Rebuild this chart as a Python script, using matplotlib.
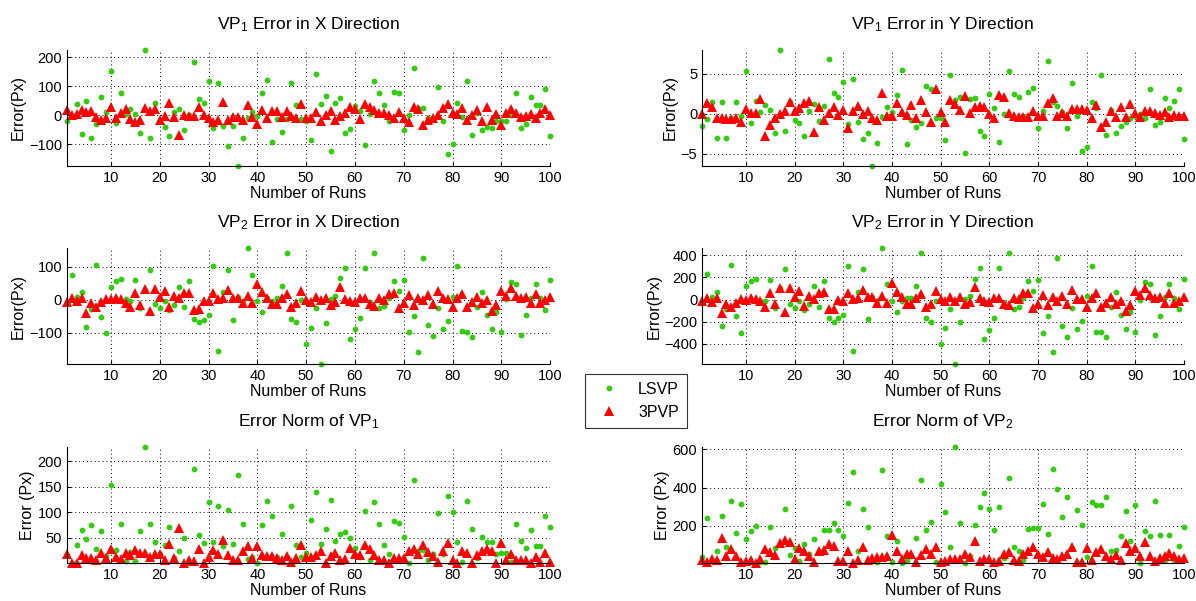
import numpy as np
import matplotlib
matplotlib.use("Agg")
from matplotlib import pyplot as plt

plt.rcParams["font.family"] = ["Liberation Sans", "DejaVu Sans"]
plt.rcParams["mathtext.default"] = "regular"

runs = np.arange(1, 101)

# VP1 error in X
lsvp_vp1_x = [-20, -2, 38, -65, 48, -77, -30, 62, 12, 152, -26, 76, 5, 23, 5, -63, 226, -77, 41, -17,
              -39, -71, 10, 23, -52, 0, 184, 55, 41, 117, -44, 113, -36, -105, -37, -175, -77, -9, 11, -2,
              76, 122, -93, -13, -59, -13, 110, 36, -13, -20, -85, 141, 38, 67, -125, 44, 59, -62, -49, 32,
              13, -103, 6, 118, 78, 36, -20, 82, 78, -52, 0, 162, 24, 25, -8, -16, 98, -20, -133, -101,
              41, -5, 120, -67, 9, -52, -41, -44, -20, -20, -20, 1, 78, -45, -31, 64, 34, 34, 92, -71]
p3_vp1_x = [18, 1, 5, 18, 10, 13, -7, -16, -10, 30, -10, 9, 22, -13, -22, -18, 24, 14, 22, -16,
            -2, 41, -7, -68, 2, -2, -2, 30, 2, -10, -25, -16, 47, -16, -5, -5, -16, 36, -7, -30,
            18, -10, 13, 13, -5, 15, -2, -8, 38, -10, -10, 10, -20, 1, 15, -18, -2, 9, 30, 21,
            -14, 38, 30, 18, 9, 7, 1, -8, 10, -8, -22, 30, 21, -33, -18, -11, 1, 24, 39, 9,
            5, 26, -16, 2, 18, -20, 30, -18, 3, -33, 7, 21, 9, -5, -2, 5, -9, 7, 21, 0]

# VP1 error in Y
lsvp_vp1_y = [-1.5, -0.6, 1.5, -3.0, 1.5, -3.0, -0.5, 1.5, -0.3, 5.3, -1.1, 1.6, 0.2, 1.1, 0.5, -2.4, 8.0, -2.2, 1.5, -0.8,
              -1.2, -2.8, 0.3, 1.2, -0.9, 1.0, 6.9, 2.6, 2.1, 4.0, -1.25, 4.4, -1.0, -3.2, -2.4, -6.5, -3.6, -0.4, 0.8, 0.25,
              2.3, 5.5, -3.75, -0.8, -1.6, -1.1, 3.5, 3.1, -0.5, -0.5, -3.3, 4.9, 1.75, 2.1, -4.9, 1.8, 2.0, -2.1, -2.8, 2.5,
              0.7, -3.5, 0.0, 5.3, 2.5, 2.1, -0.3, 2.75, 3.25, -1.8, 0.4, 6.6, 1.5, 1.0, 0.2, -1.8, 3.9, -0.25, -4.6, -4.1,
              1.5, 0.7, 4.8, -2.6, 0.5, -2.4, -1.5, -1.0, -0.5, -0.3, 0.0, -0.5, 3.1, -1.4, -1.0, 2.0, 0.7, 1.6, 3.1, -3.2]
p3_vp1_y = [0.0, 1.3, 0.8, -0.5, -0.5, -0.6, -0.6, -0.5, -1.0, 0.6, 0.1, 0.1, 1.8, -2.8, -1.4, -0.5, 0.0, 0.3, 1.5, 0.3,
            0.7, 1.4, 1.6, -2.3, 0.9, -0.8, 0.1, 0.9, -0.1, 0.5, -1.8, 0.3, 1.0, 0.0, 0.3, -0.5, -0.75, 2.6, -0.25, -0.25,
            1.3, 0.2, -0.1, 1.1, -0.5, 1.75, 0.2, -1.0, 3.1, 0.2, -1.0, 1.75, 1.25, 0.5, 2.2, 0.1, 0.9, 1.0, 0.8, 0.0,
            -0.5, 2.3, 2.1, 0.1, -0.3, -0.4, -0.4, -0.4, 0.4, -0.25, -0.25, 1.4, 2.0, -0.25, 0.1, -0.25, 0.6, 0.6, 0.6, 0.5,
            -0.5, 1.1, -1.7, -1.0, 0.4, -0.4, 0.9, -0.4, 1.25, 0.1, -0.4, 0.4, 0.4, 0.1, -0.1, 0.2, -0.4, -0.1, -0.25, -0.25]

# VP2 error in X
lsvp_vp2_x = [-11, 75, 9, 23, -82, -29, 106, -52, -101, 40, 56, 64, 1, -3, 61, -25, 30, 90, -13, -24,
              -3, -32, -16, 39, -22, 58, -57, -69, -60, -46, 103, -156, 23, 92, -60, 10, -5, 157, 74, -3,
              -37, 5, -3, 5, 42, 141, -57, -69, 0, -133, -87, -26, -196, -70, 1, 13, 65, 96, -119, -90,
              -55, 96, -7, 142, -26, -20, 6, 57, 26, 61, -99, -48, -160, 126, -77, -111, -25, -89, -64, 10,
              103, -96, -98, -113, -22, 23, -46, -89, -38, -98, 1, 54, 47, -106, -47, 7, 47, 4, -31, 61]
p3_vp2_x = [-6, 4, -3, 4, -41, -11, -21, -6, 1, 1, 7, 1, -9, -21, 21, -16, 34, -35, 34, 9,
            26, -21, 11, 4, 22, 22, -31, -28, -3, -4, 22, 2, 6, 29, 7, 7, -11, 11, -9, 49,
            24, 7, -13, -13, 4, 19, -23, -11, 26, -1, -6, 8, -1, 7, -15, -6, 39, 1, -3, -6,
            4, 4, -14, -19, 5, -1, 17, 22, -24, -11, 16, -17, 6, -1, 14, -13, 27, 4, 2, -22,
            4, 17, -23, -8, 9, -11, -1, -33, -16, 27, 11, 37, 11, 6, 9, -11, 19, -11, -1, 9]

# VP2 error in Y
lsvp_vp2_y = [-33, 228, 21, 66, -240, -87, 312, -150, -300, 120, 165, 189, -9, -9, 180, -78, 100, 273, -42, -78,
              -9, -96, -39, 120, -69, 168, -168, -204, -168, -138, 300, -459, 69, 273, -177, 20, -10, 462, 138, -9,
              -111, -9, 15, 10, 126, 417, -168, -204, -9, -396, -255, -81, -582, -201, 6, 36, 189, 282, -354, -273,
              -168, 282, -27, 423, -87, -66, 12, 168, 78, 177, -297, -150, -474, 375, -234, -333, -78, -267, -192, 33,
              306, -291, -291, -333, -63, 66, -138, -261, -111, -291, 0, 162, 138, -315, -144, 21, 141, 12, -87, 183]
p3_vp2_y = [-9, 15, -18, 18, -117, -39, -69, -27, 3, -3, 15, 6, -15, -63, 63, -39, 102, -108, 102, 27,
            81, -57, 33, 6, 63, 66, -87, -84, -3, -9, 63, 3, 15, 87, 21, 21, -27, 36, -27, 147,
            66, 27, -39, -39, 12, 48, -63, -39, 81, 3, -9, 27, -9, 27, -39, -18, 117, 12, -12, -18,
            12, 12, -39, -48, 12, 3, 57, 57, -78, -39, 42, -48, 27, -12, 36, -39, 87, 6, 6, -63,
            18, 57, -63, -27, 21, -39, -9, -99, -48, 81, 42, 108, 42, 12, 27, -27, 57, -33, -9, 27]

# error norms
lsvp_vp1_norm = [16, 0.5, 37, 65, 48, 76, 29, 63, 14, 153, 27, 78, 5, 22, 5, 63, 228, 77, 42, 18,
                 37, 71, 11, 24, 50, 0.8, 186, 55, 40, 120, 42, 113, 35, 105, 38, 174, 78, 8, 12, 1,
                 76, 122, 93, 12, 58, 12, 112, 37, 13, 20, 86, 141, 39, 67, 125, 44, 58, 61, 49, 31,
                 12, 103, 7, 120, 78, 37, 19, 83, 79, 52, 1, 163, 25, 27, 7, 18, 99, 18, 133, 101,
                 42, 3, 122, 67, 10, 52, 42, 42, 19, 20, 21, 3, 78, 44, 31, 66, 35, 35, 93, 72]
p3_vp1_norm = [19, 1, 1, 16, 10, 11, 6, 21, 11, 29, 12, 9, 21, 16, 27, 20, 20, 12, 19, 18,
               6, 39, 10, 70, 1, 7, 4, 29, 1, 12, 26, 18, 45, 17, 6, 7, 24, 34, 11, 35,
               16, 14, 14, 10, 7, 15, 3, 11, 36, 12, 12, 17, 24, 1, 14, 21, 6, 9, 31, 19,
               17, 37, 28, 17, 6, 6, 1, 11, 11, 11, 24, 29, 19, 37, 23, 14, 2, 24, 40, 6,
               1, 25, 20, 1, 16, 24, 28, 24, 1, 40, 6, 18, 6, 6, 6, 1, 12, 2, 20, 3]
lsvp_vp2_norm = [35, 239, 23, 70, 253, 91, 330, 160, 316, 128, 174, 200, 9, 11, 191, 82, 104, 286, 46, 82,
                 14, 103, 50, 128, 67, 179, 179, 214, 179, 147, 319, 482, 70, 286, 191, 25, 11, 491, 144, 9,
                 119, 4, 18, 40, 135, 442, 177, 218, 9, 417, 270, 86, 612, 214, 4, 39, 202, 300, 374, 288,
                 177, 300, 32, 449, 91, 70, 18, 181, 189, 189, 316, 158, 496, 395, 246, 353, 82, 282, 205, 35,
                 326, 307, 307, 353, 67, 75, 147, 279, 121, 307, 4, 174, 146, 332, 154, 21, 149, 18, 95, 193]
p3_vp2_norm = [21, 9, 26, 18, 137, 44, 79, 39, 9, 14, 21, 4, 26, 79, 61, 49, 109, 126, 114, 26,
               84, 70, 39, 9, 67, 74, 102, 96, 14, 14, 67, 4, 18, 88, 18, 32, 35, 35, 39, 154,
               70, 25, 53, 53, 11, 47, 79, 53, 88, 9, 14, 26, 26, 26, 53, 35, 119, 14, 26, 26,
               11, 14, 53, 61, 18, 14, 53, 65, 91, 53, 35, 60, 30, 26, 39, 53, 88, 9, 9, 81,
               21, 60, 79, 39, 26, 49, 18, 112, 67, 84, 39, 114, 39, 14, 32, 44, 56, 44, 26, 32]

panels = [
    ("VP$_1$ Error in X Direction", "Error(Px)", lsvp_vp1_x, p3_vp1_x, [-100, 0, 100, 200]),
    ("VP$_1$ Error in Y Direction", "Error(Px)", lsvp_vp1_y, p3_vp1_y, [-5, 0, 5]),
    ("VP$_2$ Error in X Direction", "Error(Px)", lsvp_vp2_x, p3_vp2_x, [-100, 0, 100]),
    ("VP$_2$ Error in Y Direction", "Error(Px)", lsvp_vp2_y, p3_vp2_y, [-400, -200, 0, 200, 400]),
    ("Error Norm of VP$_1$", "Error (Px)", lsvp_vp1_norm, p3_vp1_norm, [50, 100, 150, 200]),
    ("Error Norm of VP$_2$", "Error (Px)", lsvp_vp2_norm, p3_vp2_norm, [200, 400, 600]),
]

# axes boxes in figure fractions (left, bottom, width, height)
positions = [
    (0.056, 0.724, 0.404, 0.193), (0.587, 0.724, 0.403, 0.193),
    (0.056, 0.394, 0.404, 0.193), (0.587, 0.394, 0.403, 0.193),
    (0.056, 0.063, 0.404, 0.193), (0.587, 0.063, 0.403, 0.193),
]

GREEN = "#33cc11"
fig = plt.figure(figsize=(11.96, 6.01), dpi=100)

for (title, ylabel, lsvp, p3, yticks), pos in zip(panels, positions):
    ax = fig.add_axes(pos)
    h1, = ax.plot(runs, lsvp, "o", color=GREEN, markersize=4.2, markeredgewidth=0, label="LSVP", clip_on=False)
    h2, = ax.plot(runs, p3, "^", color="red", markersize=6.5, markeredgewidth=0, label="3PVP", clip_on=False)
    all_vals = np.concatenate([lsvp, p3])
    ax.set_xlim(1, 100)
    ax.set_ylim(all_vals.min(), all_vals.max())
    ax.set_xticks(range(10, 101, 10))
    ax.set_yticks(yticks)
    ax.grid(True, linestyle=(0, (1, 3)), color="black", linewidth=0.7)
    ax.spines["top"].set_visible(False)
    ax.spines["right"].set_visible(False)
    ax.tick_params(direction="in", labelsize=10.5, length=3)
    ax.set_title(title, fontsize=12.5, pad=15)
    ax.set_ylabel(ylabel, fontsize=11.5, labelpad=2)
    ax.set_xlabel("Number of Runs", fontsize=11.5, labelpad=1)

leg = fig.legend([h1, h2], ["LSVP", "3PVP"], loc="center", bbox_to_anchor=(0.532, 0.333),
                 fontsize=11.5, frameon=True, fancybox=False, edgecolor="black",
                 handletextpad=0.8, borderpad=0.5)
leg.get_frame().set_linewidth(0.8)

plt.savefig("out.png", dpi=100)
